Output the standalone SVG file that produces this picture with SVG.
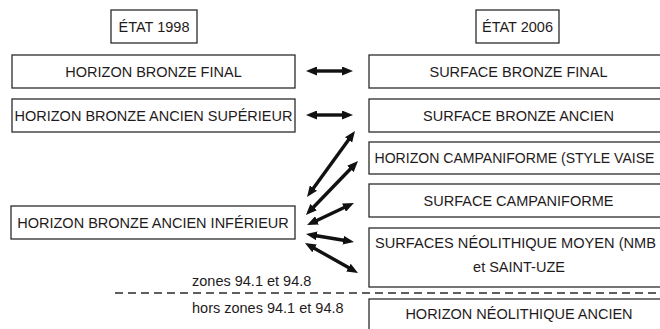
<svg xmlns="http://www.w3.org/2000/svg" width="660" height="329" viewBox="0 0 660 329">
<style>
.box{fill:#fff;stroke:#2b2b2b;stroke-width:1.3}
.t{font-family:"Liberation Sans",Arial,sans-serif;font-size:14.5px;fill:#1f1b1c}
.c{text-anchor:middle}
.arr{stroke:#111;stroke-width:3.4;fill:none;marker-start:url(#ah);marker-end:url(#ah)}
.dash{stroke:#2b2b2b;stroke-width:1.4;stroke-dasharray:8 5;fill:none}
</style>
<defs>
<marker id="ah" viewBox="0 0 11 9" refX="2" refY="4.5" markerWidth="11" markerHeight="9" markerUnits="userSpaceOnUse" orient="auto-start-reverse">
<path d="M0,0 L11,4.5 L0,9 z" fill="#111"/>
</marker>
</defs>
<rect width="660" height="329" fill="#fff"/>

<g id="etat1998"><rect class="box" x="111" y="10" width="86" height="33"/><text class="t c" x="154" y="32">ÉTAT 1998</text></g>
<g id="etat2006"><rect class="box" x="476" y="10" width="83" height="33"/><text class="t c" x="517.5" y="32">ÉTAT 2006</text></g>

<g id="l1"><rect class="box" x="12" y="55" width="283" height="33"/><text class="t c" x="153.5" y="77">HORIZON BRONZE FINAL</text></g>
<g id="l2"><rect class="box" x="12" y="99" width="283" height="33"/><text class="t c" x="153.5" y="121">HORIZON BRONZE ANCIEN SUPÉRIEUR</text></g>
<g id="l3"><rect class="box" x="11" y="206" width="284" height="33"/><text class="t c" x="153" y="228">HORIZON BRONZE ANCIEN INFÉRIEUR</text></g>

<g id="r1"><rect class="box" x="369" y="55" width="300" height="33"/><text class="t c" x="518.5" y="77">SURFACE BRONZE FINAL</text></g>
<g id="r2"><rect class="box" x="369" y="99" width="300" height="33"/><text class="t c" x="518.5" y="121">SURFACE BRONZE ANCIEN</text></g>
<g id="r3"><rect class="box" x="369" y="142" width="300" height="32"/><text class="t" x="374.5" y="163" textLength="280" lengthAdjust="spacingAndGlyphs">HORIZON CAMPANIFORME (STYLE VAISE</text></g>
<g id="r4"><rect class="box" x="369" y="184" width="300" height="33"/><text class="t c" x="518.5" y="206">SURFACE CAMPANIFORME</text></g>
<g id="r5"><rect class="box" x="369" y="228" width="300" height="59"/><text class="t" x="375" y="248" textLength="281" lengthAdjust="spacingAndGlyphs">SURFACES NÉOLITHIQUE MOYEN (NMB</text><text class="t c" x="519" y="271.5">et SAINT-UZE</text></g>
<g id="r6"><rect class="box" x="369" y="299" width="300" height="40"/><text class="t c" x="519" y="319">HORIZON NÉOLITHIQUE ANCIEN</text></g>

<g id="zones">
<line class="dash" x1="115" y1="293" x2="662" y2="293"/>
<text class="t" x="192" y="286">zones 94.1 et 94.8</text>
<text class="t" x="192" y="313">hors zones 94.1 et 94.8</text>
</g>

<g id="connectors">
<line class="arr" x1="315" y1="71" x2="344" y2="71"/>
<line class="arr" x1="315" y1="115" x2="344" y2="115"/>
<line class="arr" x1="312.3" y1="189.7" x2="349.7" y2="138.3"/>
<line class="arr" x1="312.2" y1="208.5" x2="351.8" y2="167.5"/>
<line class="arr" x1="315.2" y1="221.2" x2="345.8" y2="206.8"/>
<line class="arr" x1="314.9" y1="235.5" x2="345.1" y2="240.5"/>
<line class="arr" x1="312.8" y1="247.4" x2="350.2" y2="268.6"/>
</g>
</svg>
